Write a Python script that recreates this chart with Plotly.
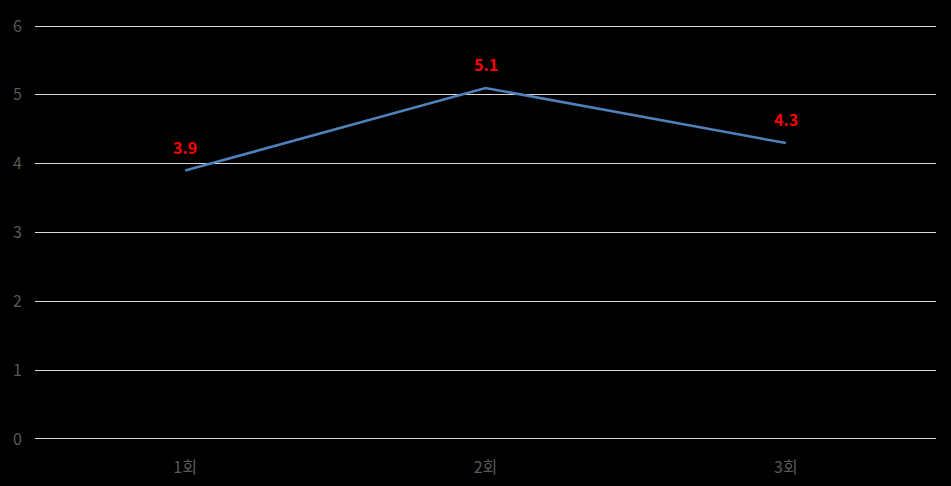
import plotly.graph_objects as go

categories = ["1회", "2회", "3회"]
values = [3.9, 5.1, 4.3]
y_ticks = [0, 1, 2, 3, 4, 5, 6]

fig = go.Figure()
fig.add_trace(go.Scatter(
    x=categories, y=values, mode="lines",
    line=dict(color="#4F81BD", width=2.5),
    showlegend=False, hoverinfo="skip",
))
for c, v in zip(categories, values):
    fig.add_annotation(x=c, y=v, text=f"<b>{v}</b>", showarrow=False,
                       yshift=24, font=dict(color="#FF0000", size=16,
                                            family="Noto Sans CJK KR"))
fig.update_layout(
    width=951, height=486,
    paper_bgcolor="#000000", plot_bgcolor="#000000",
    margin=dict(l=35, r=15, t=24, b=45),
    font=dict(family="Noto Sans CJK KR", color="#595959", size=16),
)
fig.update_xaxes(range=[-0.5, 2.5], showgrid=False, zeroline=False, showline=False,
                 ticks="", ticklabelstandoff=15, automargin=False,
                 tickfont=dict(color="#595959", size=16))
fig.update_yaxes(range=[-0.03, 6.03], tickvals=y_ticks, showgrid=True, gridcolor="#D9D9D9",
                 gridwidth=1, zeroline=False, showline=False, ticks="",
                 ticklabelstandoff=12, automargin=False,
                 tickfont=dict(color="#595959", size=16))
fig.write_html("out.html", config={"displayModeBar": False},
               post_script="document.body.style.margin='0';document.body.style.background='#000';")
